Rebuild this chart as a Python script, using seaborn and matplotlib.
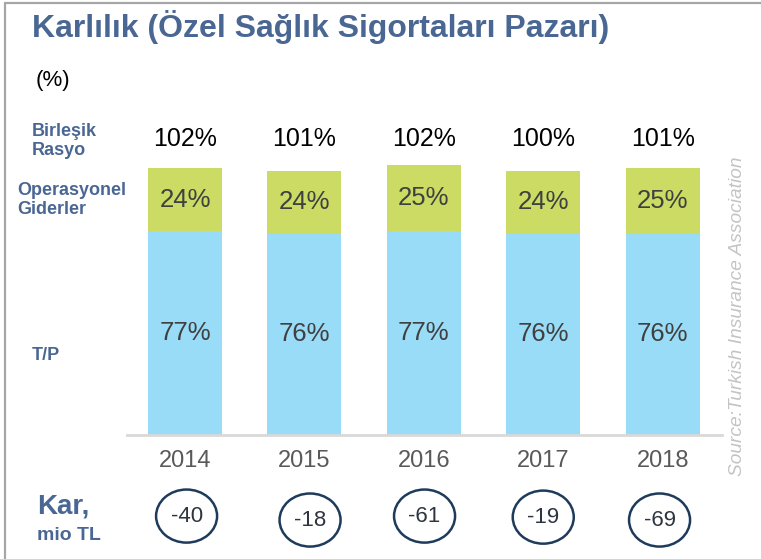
import matplotlib
matplotlib.use("Agg")
import matplotlib.pyplot as plt
import seaborn as sns
import pandas as pd
from matplotlib.patches import Ellipse
from matplotlib.lines import Line2D

# ---- data ----
years = ["2014", "2015", "2016", "2017", "2018"]
tp_ratio = [77, 76, 77, 76, 76]          # T/P (blue)
opex_ratio = [24, 24, 25, 24, 25]        # Operasyonel Giderler (green)
combined_ratio = [102, 101, 102, 100, 101]  # Birleşik Rasyo
profit = [-40, -18, -61, -19, -69]       # Kar, mio TL

# ---- layout (not data) ----
circle_dx = [0.013, 0.047, 0.006, 0.0, -0.026]
circle_y = [-30.9, -32.4, -30.9, -31.3, -32.4]

W, H, DPI = 761, 559, 100
GREEN = "#cbdb63"
BLUE = "#99dcf8"
TITLE_C = "#4a6794"

sns.set_theme(style="white")
plt.rcParams['font.family'] = ['Liberation Sans', 'DejaVu Sans']

fig = plt.figure(figsize=(W / DPI, H / DPI), dpi=DPI)
fig.patch.set_facecolor("white")

def fx(x):
    return x / W

def fy(y):
    return 1 - y / H

base_y = 434.5
ppu = 2.64
ymax = 120
ax = fig.add_axes([fx(127), (H - base_y) / H, (722 - 127) / W, ymax * ppu / H])
ax.set_facecolor("white")

df = pd.DataFrame({"year": years, "tp": tp_ratio, "opex": opex_ratio})
df["stack"] = df["tp"] + df["opex"]

sns.barplot(data=df, x="year", y="stack", color=GREEN, width=0.62,
            saturation=1, linewidth=0, ax=ax)
sns.barplot(data=df, x="year", y="tp", color=BLUE, width=0.62,
            saturation=1, linewidth=0, ax=ax)

ax.set_xlim(-0.486, 4.497)
ax.set_ylim(0, ymax)
ax.set_xlabel("")
ax.set_ylabel("")
ax.set_yticks([])
for s in ["left", "top", "right"]:
    ax.spines[s].set_visible(False)
ax.spines["bottom"].set_color("#d9d9d9")
ax.spines["bottom"].set_linewidth(2)
ax.tick_params(axis="x", length=0, pad=11.5, labelsize=17, labelcolor="#595959")

for i in range(len(years)):
    ax.text(i, tp_ratio[i] / 2, f"{tp_ratio[i]}%", ha="center", va="center",
            fontsize=18.5, color="#404040")
    ax.text(i, tp_ratio[i] + opex_ratio[i] / 2, f"{opex_ratio[i]}%", ha="center",
            va="center", fontsize=18.5, color="#404040")
    ax.text(i, 112, f"{combined_ratio[i]}%", ha="center", va="center",
            fontsize=18, color="black")
    cx = i + circle_dx[i]
    ax.add_patch(Ellipse((cx, circle_y[i]), 0.511, 20.1, fill=False,
                         edgecolor="#1f3b5c", lw=1.8, clip_on=False))
    ax.text(cx, circle_y[i], f"{profit[i]}", ha="center", va="center",
            fontsize=16, color="#2d3540", clip_on=False)

# ---- figure texts ----
fig.text(fx(32), fy(37), "Karlılık (Özel Sağlık Sigortaları Pazarı)",
         fontsize=23, fontweight="bold", color=TITLE_C, va="baseline", ha="left")
fig.text(fx(36), fy(86), "(%)", fontsize=16, color="black", va="baseline", ha="left")

lab = dict(fontsize=13, fontweight="bold", color=TITLE_C, va="baseline", ha="left")
fig.text(fx(32), fy(136), "Birleşik", **lab)
fig.text(fx(32), fy(155), "Rasyo", **lab)
fig.text(fx(17), fy(195), "Operasyonel", **lab)
fig.text(fx(17), fy(214), "Giderler", **lab)
fig.text(fx(32), fy(360), "T/P", **lab)

fig.text(fx(37), fy(513), "Kar,", fontsize=20, fontweight="bold", color=TITLE_C,
         va="baseline", ha="left")
fig.text(fx(37), fy(540), "mio TL", fontsize=14, fontweight="bold", color=TITLE_C,
         va="baseline", ha="left")

fig.text(fx(737), fy(476), "Source:Turkish Insurance Association", rotation=90,
         ha="center", va="bottom", fontsize=13.8, fontstyle="italic", color="#c4c4c4")

# frame lines (top and left)
fig.add_artist(Line2D([fx(5), fx(5)], [0, fy(3)], transform=fig.transFigure,
                      color="#a6a6a6", lw=1.6))
fig.add_artist(Line2D([fx(5), 1], [fy(3), fy(3)], transform=fig.transFigure,
                      color="#a6a6a6", lw=1.6))

fig.savefig("out.png", dpi=DPI, facecolor="white")
